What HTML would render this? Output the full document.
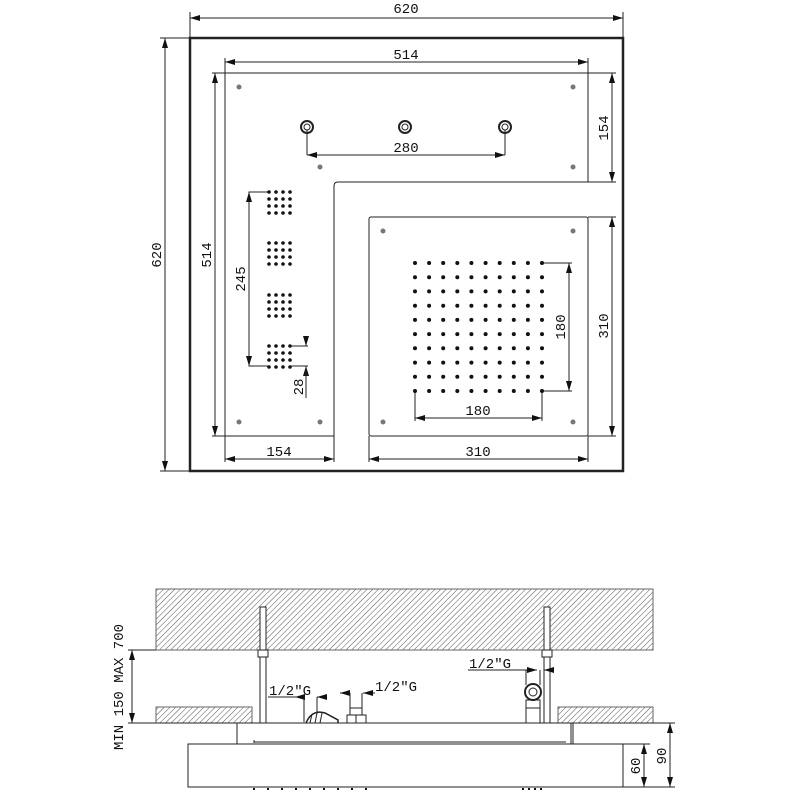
<!DOCTYPE html>
<html><head><meta charset="utf-8"><style>html,body{margin:0;padding:0;background:#fff}svg{display:block}text{font-family:"Liberation Mono",monospace;font-size:14px;fill:#111}</style></head><body>
<svg width="800" height="800" viewBox="0 0 800 800" xmlns="http://www.w3.org/2000/svg">
<defs>
<pattern id="h" width="4" height="4" patternUnits="userSpaceOnUse" patternTransform="rotate(45)"><line x1="0" y1="0" x2="0" y2="4" stroke="#555" stroke-width="1"/></pattern>
<marker id="a" viewBox="0 0 10 6" refX="10" refY="3" markerWidth="10" markerHeight="6" orient="auto-start-reverse" markerUnits="userSpaceOnUse"><path d="M0,0 L10,3 L0,6 z" fill="#111"/></marker>
</defs>
<g stroke="#222" fill="none" stroke-width="1">
<!-- outer -->
<rect x="190" y="38" width="433" height="433" stroke-width="2.5"/>
<!-- L panel -->
<path d="M225,73 H588 V182 H338 Q334,182 334,186 V436 H225 Z"/>
<rect x="369" y="217" width="219" height="219" rx="2"/>
<!-- dims top -->
<line x1="190" y1="18" x2="623" y2="18" marker-start="url(#a)" marker-end="url(#a)"/>
<line x1="190" y1="12" x2="190" y2="38"/><line x1="623" y1="12" x2="623" y2="38"/>
<line x1="165" y1="38" x2="165" y2="471" marker-start="url(#a)" marker-end="url(#a)"/>
<line x1="160" y1="38" x2="190" y2="38"/><line x1="160" y1="471" x2="190" y2="471"/>
<line x1="225" y1="62" x2="588" y2="62" marker-start="url(#a)" marker-end="url(#a)"/>
<line x1="225" y1="58" x2="225" y2="73"/><line x1="588" y1="58" x2="588" y2="73"/>
<line x1="215" y1="73" x2="215" y2="436" marker-start="url(#a)" marker-end="url(#a)"/>
<line x1="212" y1="73" x2="225" y2="73"/><line x1="212" y1="436" x2="225" y2="436"/>
<line x1="588" y1="73" x2="616" y2="73"/><line x1="588" y1="182" x2="616" y2="182"/>
<line x1="612" y1="73" x2="612" y2="182" marker-start="url(#a)" marker-end="url(#a)"/>
<line x1="588" y1="217" x2="616" y2="217"/><line x1="588" y1="436" x2="616" y2="436"/>
<line x1="612" y1="217" x2="612" y2="436" marker-start="url(#a)" marker-end="url(#a)"/>
<line x1="225" y1="436" x2="225" y2="462"/><line x1="334" y1="436" x2="334" y2="462"/>
<line x1="369" y1="436" x2="369" y2="462"/><line x1="588" y1="436" x2="588" y2="462"/>
<line x1="225" y1="459" x2="334" y2="459" marker-start="url(#a)" marker-end="url(#a)"/>
<line x1="369" y1="459" x2="588" y2="459" marker-start="url(#a)" marker-end="url(#a)"/>
<!-- 280 -->
<line x1="307" y1="130" x2="307" y2="155"/><line x1="505" y1="130" x2="505" y2="155"/>
<line x1="307" y1="155" x2="505" y2="155" marker-start="url(#a)" marker-end="url(#a)"/>
<!-- 245 -->
<polyline points="268,192 249,192 249,366 268,366"/>
<line x1="249" y1="192" x2="249" y2="366" marker-start="url(#a)" marker-end="url(#a)"/>
<line x1="290" y1="346" x2="308" y2="346"/><line x1="290" y1="366" x2="308" y2="366"/>
<line x1="306" y1="336" x2="306" y2="346" marker-end="url(#a)"/>
<line x1="306" y1="376" x2="306" y2="366" marker-end="url(#a)"/>
<line x1="306" y1="366" x2="306" y2="398"/>
<!-- 180 -->
<line x1="542" y1="263" x2="572" y2="263"/><line x1="542" y1="391" x2="572" y2="391"/>
<line x1="569" y1="263" x2="569" y2="391" marker-start="url(#a)" marker-end="url(#a)"/>
<line x1="415" y1="391" x2="415" y2="421"/><line x1="542" y1="391" x2="542" y2="421"/>
<line x1="415" y1="418" x2="542" y2="418" marker-start="url(#a)" marker-end="url(#a)"/>
<!-- nozzles -->
<g stroke-width="2"><circle cx="307" cy="127" r="6"/><circle cx="405" cy="127" r="6"/><circle cx="505" cy="127" r="6"/></g>
<g><circle cx="307" cy="127" r="3"/><circle cx="405" cy="127" r="3"/><circle cx="505" cy="127" r="3"/></g>
</g>
<g fill="#777">
<circle cx="239" cy="87" r="2.5"/><circle cx="573" cy="87" r="2.5"/><circle cx="320" cy="167" r="2.5"/><circle cx="573" cy="167" r="2.5"/>
<circle cx="239" cy="422" r="2.5"/><circle cx="320" cy="422" r="2.5"/><circle cx="383" cy="231" r="2.5"/><circle cx="573" cy="231" r="2.5"/>
<circle cx="383" cy="422" r="2.5"/><circle cx="573" cy="422" r="2.5"/>
</g>
<g fill="#111" id="dots">
<g id="g4">
<circle cx="269" cy="192" r="1.8"/><circle cx="276" cy="192" r="1.8"/><circle cx="283" cy="192" r="1.8"/><circle cx="290" cy="192" r="1.8"/>
<circle cx="269" cy="199" r="1.8"/><circle cx="276" cy="199" r="1.8"/><circle cx="283" cy="199" r="1.8"/><circle cx="290" cy="199" r="1.8"/>
<circle cx="269" cy="206" r="1.8"/><circle cx="276" cy="206" r="1.8"/><circle cx="283" cy="206" r="1.8"/><circle cx="290" cy="206" r="1.8"/>
<circle cx="269" cy="213" r="1.8"/><circle cx="276" cy="213" r="1.8"/><circle cx="283" cy="213" r="1.8"/><circle cx="290" cy="213" r="1.8"/>
</g>
<use href="#g4" y="51"/><use href="#g4" y="103"/><use href="#g4" y="154"/>
</g>
<g fill="#111">
<g id="row">
<circle cx="415" cy="263" r="2"/><circle cx="429.1" cy="263" r="2"/><circle cx="443.2" cy="263" r="2"/><circle cx="457.3" cy="263" r="2"/><circle cx="471.4" cy="263" r="2"/><circle cx="485.6" cy="263" r="2"/><circle cx="499.7" cy="263" r="2"/><circle cx="513.8" cy="263" r="2"/><circle cx="527.9" cy="263" r="2"/><circle cx="542" cy="263" r="2"/>
</g>
<use href="#row" y="14.2"/><use href="#row" y="28.4"/><use href="#row" y="42.7"/><use href="#row" y="56.9"/><use href="#row" y="71.1"/><use href="#row" y="85.3"/><use href="#row" y="99.6"/><use href="#row" y="113.8"/><use href="#row" y="128"/>
</g>
<text x="406" y="13" text-anchor="middle">620</text>
<text x="406" y="59" text-anchor="middle">514</text>
<text x="406" y="152" text-anchor="middle">280</text>
<text x="279" y="456" text-anchor="middle">154</text>
<text x="478" y="456" text-anchor="middle">310</text>
<text x="478" y="415" text-anchor="middle">180</text>
<text transform="translate(161,255) rotate(-90)" text-anchor="middle">620</text>
<text transform="translate(211,255) rotate(-90)" text-anchor="middle">514</text>
<text transform="translate(245,279) rotate(-90)" text-anchor="middle">245</text>
<text transform="translate(303,387) rotate(-90)" text-anchor="middle">28</text>
<text transform="translate(608,128) rotate(-90)" text-anchor="middle">154</text>
<text transform="translate(608,326) rotate(-90)" text-anchor="middle">310</text>
<text transform="translate(565,327) rotate(-90)" text-anchor="middle">180</text>

<!-- side view -->
<rect x="156" y="589" width="497" height="61" fill="url(#h)" stroke="#666"/>
<rect x="156" y="707" width="96" height="16" fill="url(#h)" stroke="#666"/>
<rect x="558" y="707" width="95" height="16" fill="url(#h)" stroke="#666"/>
<g stroke="#222" fill="none" stroke-width="1">
<line x1="128" y1="723" x2="675" y2="723"/>
<line x1="128" y1="650" x2="156" y2="650"/>
<line x1="132" y1="650" x2="132" y2="723" marker-start="url(#a)" marker-end="url(#a)"/>
<rect x="260" y="607" width="6" height="116" fill="#fff"/>
<rect x="544" y="607" width="6" height="116" fill="#fff"/>
<rect x="258" y="650" width="10" height="7" fill="#fff"/>
<rect x="542" y="650" width="10" height="7" fill="#fff"/>
<line x1="237" y1="723" x2="237" y2="744"/><line x1="573" y1="723" x2="573" y2="744"/><line x1="571" y1="723" x2="571" y2="744"/>
<rect x="188" y="744" width="435" height="43"/>
<line x1="623" y1="744" x2="650" y2="744"/>
<line x1="623" y1="787" x2="675" y2="787"/>
<line x1="254" y1="742" x2="566" y2="742"/><line x1="254" y1="740" x2="254" y2="743"/>
<line x1="644" y1="744" x2="644" y2="787" marker-start="url(#a)" marker-end="url(#a)"/>
<line x1="670" y1="723" x2="670" y2="787" marker-start="url(#a)" marker-end="url(#a)"/>
<!-- left fitting -->
<line x1="268" y1="697" x2="295" y2="697"/>
<line x1="304" y1="697" x2="295" y2="697" marker-end="url(#a)"/>
<line x1="327" y1="697" x2="317" y2="697" marker-end="url(#a)"/>
<line x1="304" y1="697" x2="304" y2="722"/><line x1="317" y1="697" x2="317" y2="714"/>
<path d="M306,723 Q312,709 325,713 L338,720 L338,723" stroke-width="1.5"/>
<line x1="312" y1="714" x2="310" y2="723"/><line x1="317" y1="713" x2="315" y2="723"/><line x1="322" y1="713" x2="320" y2="723"/>
<!-- middle fitting -->
<line x1="340" y1="693" x2="350" y2="693" marker-start="url(#a)"/>
<line x1="375" y1="693" x2="363" y2="693" marker-end="url(#a)"/>
<line x1="350" y1="693" x2="350" y2="715"/><line x1="362" y1="693" x2="362" y2="715"/>
<line x1="350" y1="708" x2="362" y2="708"/>
<rect x="347" y="715" width="19" height="8"/><line x1="356" y1="715" x2="356" y2="723"/>
<!-- right fitting -->
<line x1="468" y1="670" x2="529" y2="670"/>
<line x1="529" y1="670" x2="537" y2="670" marker-end="url(#a)"/>
<line x1="552" y1="670" x2="544" y2="670" marker-end="url(#a)"/>
<line x1="526" y1="670" x2="526" y2="685"/><line x1="540" y1="670" x2="540" y2="685"/>
<circle cx="533" cy="692" r="8" stroke-width="2"/><circle cx="533" cy="692" r="4"/>
<rect x="526" y="700" width="14" height="23"/><line x1="526" y1="708" x2="540" y2="708"/>
</g>
<g fill="#111">
<rect x="253" y="788" width="2" height="2"/><rect x="267" y="788" width="2" height="2"/><rect x="281" y="788" width="2" height="2"/><rect x="295" y="788" width="2" height="2"/><rect x="309" y="788" width="2" height="2"/><rect x="323" y="788" width="2" height="2"/><rect x="337" y="788" width="2" height="2"/><rect x="351" y="788" width="2" height="2"/><rect x="365" y="788" width="2" height="2"/>
<rect x="522" y="788" width="2" height="2"/><rect x="528" y="788" width="2" height="2"/><rect x="534" y="788" width="2" height="2"/><rect x="540" y="788" width="2" height="2"/>
</g>
<text x="269" y="695">1/2"G</text>
<text x="375" y="691">1/2"G</text>
<text x="469" y="668">1/2"G</text>
<text transform="translate(123,687) rotate(-90)" text-anchor="middle">MIN 150 MAX 700</text>
<text transform="translate(640,766) rotate(-90)" text-anchor="middle">60</text>
<text transform="translate(666,756) rotate(-90)" text-anchor="middle">90</text>
</svg>
</body></html>
